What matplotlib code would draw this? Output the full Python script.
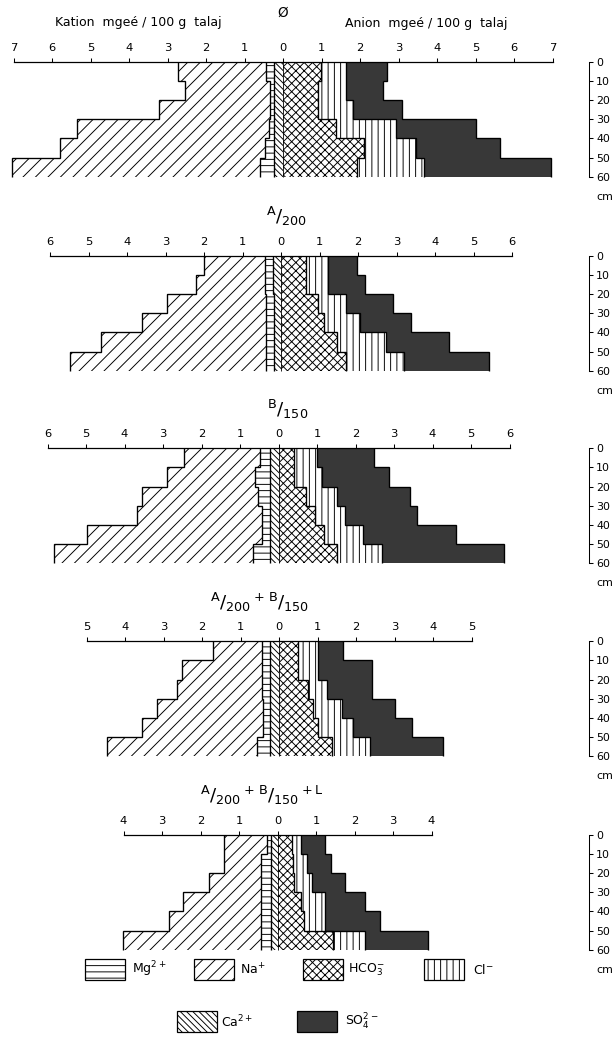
import numpy as np
import matplotlib.pyplot as plt
from matplotlib.patches import Rectangle

W, H, DPI = 615, 1037, 75
plt.rcParams['font.family'] = 'DejaVu Sans'
plt.rcParams['hatch.linewidth'] = 0.9

# soil layers (cm)
depth = np.arange(0, 70, 10)
mid = depth[:-1] + 5

titles = ['Ø',
          r'$\mathregular{{}^{A}/_{200}}$',
          r'$\mathregular{{}^{B}/_{150}}$',
          r'$\mathregular{{}^{A}/_{200}\,{}^{+}\,{}^{B}/_{150}}$',
          r'$\mathregular{{}^{A}/_{200}\,{}^{+}\,{}^{B}/_{150}\,{}^{+\,L}}$']
scale_max = [7, 6, 6, 5, 4]

# mgeé / 100 g talaj, one row per treatment, layers 0-10 ... 50-60 cm
ca = [[0.23, 0.23, 0.23, 0.23, 0.23, 0.23],
      [0.21, 0.21, 0.18, 0.18, 0.18, 0.18],
      [0.23, 0.23, 0.23, 0.23, 0.23, 0.23],
      [0.23, 0.23, 0.23, 0.23, 0.23, 0.23],
      [0.18, 0.18, 0.18, 0.18, 0.18, 0.18]]
mg = [[0.20, 0.10, 0.10, 0.14, 0.23, 0.36],
      [0.20, 0.20, 0.22, 0.22, 0.22, 0.22],
      [0.26, 0.38, 0.29, 0.20, 0.20, 0.42],
      [0.20, 0.20, 0.22, 0.18, 0.18, 0.33],
      [0.10, 0.24, 0.24, 0.24, 0.24, 0.24]]
na = [[2.29, 2.22, 2.90, 4.97, 5.32, 6.44],
      [1.59, 1.81, 2.56, 3.21, 4.28, 5.07],
      [1.96, 2.29, 3.03, 3.25, 4.55, 5.18],
      [1.28, 2.08, 2.21, 2.75, 3.16, 3.92],
      [1.12, 0.98, 1.35, 2.04, 2.39, 3.60]]
hco3 = [[0.98, 0.92, 0.90, 1.37, 2.10, 1.93],
        [0.66, 0.66, 0.95, 1.12, 1.46, 1.70],
        [0.39, 0.39, 0.72, 0.95, 1.17, 1.52],
        [0.50, 0.50, 0.76, 0.88, 1.02, 1.37],
        [0.38, 0.40, 0.43, 0.60, 0.68, 1.44]]
cl = [[0.65, 0.71, 0.93, 1.56, 1.35, 1.72],
      [0.55, 0.55, 0.73, 0.93, 1.26, 1.49],
      [0.61, 0.74, 0.80, 0.78, 1.02, 1.16],
      [0.50, 0.50, 0.48, 0.75, 0.89, 0.99],
      [0.23, 0.36, 0.46, 0.64, 0.56, 0.84]]
so4 = [[1.07, 0.98, 1.27, 2.07, 2.18, 3.31],
       [0.76, 0.97, 1.22, 1.33, 1.65, 2.21],
       [1.47, 1.73, 1.90, 1.86, 2.42, 3.17],
       [0.67, 1.41, 1.17, 1.38, 1.54, 1.89],
       [0.63, 0.63, 0.87, 1.04, 1.43, 1.64]]

DARK = '#383838'
styles = {'ca': dict(hatch='\\\\\\\\', fc='white'),
          'mg': dict(hatch='--', fc='white'),
          'na': dict(hatch='//', fc='white'),
          'hco3': dict(hatch='xxx', fc='white'),
          'cl': dict(hatch='||', fc='white'),
          'so4': dict(hatch=None, fc=DARK)}

# layout in pixels
axis_px = [61.7, 255.7, 448.3, 641.3, 834.7]
zero_px = [283, 281, 278.5, 279, 277.5]
title_dx = [0, 0.15, 0.25, -0.5, -0.4]
PX_UNIT = 38.5
PX_CM = 1.917
DEPTH_AX_PX = 589

fig = plt.figure(figsize=(W / DPI, H / DPI), dpi=DPI)


def draw_side(ax, layers, keys, sign):
    cum = np.zeros(len(mid))
    for vals, key in zip(layers, keys):
        vals = np.array(vals)
        st = styles[key]
        ax.barh(mid, sign * vals, left=sign * cum, height=10, color=st['fc'],
                hatch=st['hatch'], edgecolor='black', linewidth=0, zorder=1)
        cum = cum + vals
        ax.stairs(sign * cum, depth, orientation='horizontal', baseline=None,
                  color='black', linewidth=1.3, zorder=3)


for i in range(5):
    top = axis_px[i] - 60
    h = 194
    ax = fig.add_axes([0, 1 - (top + h) / H, 1, h / H])
    ax.patch.set_visible(False)
    z = zero_px[i]
    ax.set_xlim(-z / PX_UNIT, (W - z) / PX_UNIT)
    ax.set_ylim((h - 60) / PX_CM, -60 / PX_CM)

    draw_side(ax, [ca[i], mg[i], na[i]], ['ca', 'mg', 'na'], -1)
    draw_side(ax, [hco3[i], cl[i], so4[i]], ['hco3', 'cl', 'so4'], 1)
    ax.stairs(np.zeros(len(mid)), depth, orientation='horizontal', baseline=None,
              color='black', linewidth=0.8, zorder=3)

    n = scale_max[i]
    dx = (DEPTH_AX_PX - z) / PX_UNIT
    for s in ['left', 'bottom']:
        ax.spines[s].set_visible(False)
    ax.spines['top'].set_position(('data', 0))
    ax.spines['top'].set_bounds(-n, n)
    ax.spines['top'].set_linewidth(1.2)
    ax.spines['right'].set_position(('data', dx))
    ax.spines['right'].set_bounds(0, 60)
    ax.spines['right'].set_linewidth(1.0)

    ticks = np.arange(-n, n + 1)
    ax.xaxis.set_ticks_position('top')
    ax.set_xticks(ticks)
    ax.set_xticklabels([str(abs(t)) for t in ticks])
    ax.tick_params(axis='x', direction='out', length=3.5, width=1.0, pad=5, labelsize=11)
    ax.yaxis.set_ticks_position('right')
    ax.set_yticks(depth)
    ax.tick_params(axis='y', direction='out', length=4, width=1.0, pad=3, labelsize=10.5)
    ax.text(dx + 0.2, 70.5, 'cm', ha='left', va='center', fontsize=10.5)

    if i == 0:
        ax.text(0, -25.4, titles[i], ha='center', va='center', fontsize=13)
        ax.text(-3.75, -20.2, 'Kation  mgeé / 100 g  talaj', ha='center', va='center', fontsize=12)
        ax.text(3.73, -19.8, 'Anion  mgeé / 100 g  talaj', ha='center', va='center', fontsize=12)
    else:
        ax.text(title_dx[i], -20.5, titles[i], ha='center', va='center', fontsize=17.5)

# legend
leg_labels = [r'Mg$^{2+}$', r'Na$^{+}$', r'HCO$_3^{-}$', r'Cl$^{-}$', r'Ca$^{2+}$', r'SO$_4^{2-}$']
leg_keys = ['mg', 'na', 'hco3', 'cl', 'ca', 'so4']
leg_box_x = [84.5, 194, 303, 424, 177, 297]
leg_box_y = [959, 959, 959, 959, 1011, 1011]
leg_text_x = [132, 240, 348, 473, 221, 345]

lax = fig.add_axes([0, 0, 1, 1])
lax.set_xlim(0, W)
lax.set_ylim(H, 0)
lax.axis('off')
for lab, key, bx, by, tx in zip(leg_labels, leg_keys, leg_box_x, leg_box_y, leg_text_x):
    st = styles[key]
    lax.add_patch(Rectangle((bx, by), 40, 21, facecolor=st['fc'], hatch=st['hatch'],
                            edgecolor='black', linewidth=1.2))
    lax.text(tx, by + 10.5, lab, ha='left', va='center', fontsize=12)

fig.savefig('out.png', dpi=DPI)
